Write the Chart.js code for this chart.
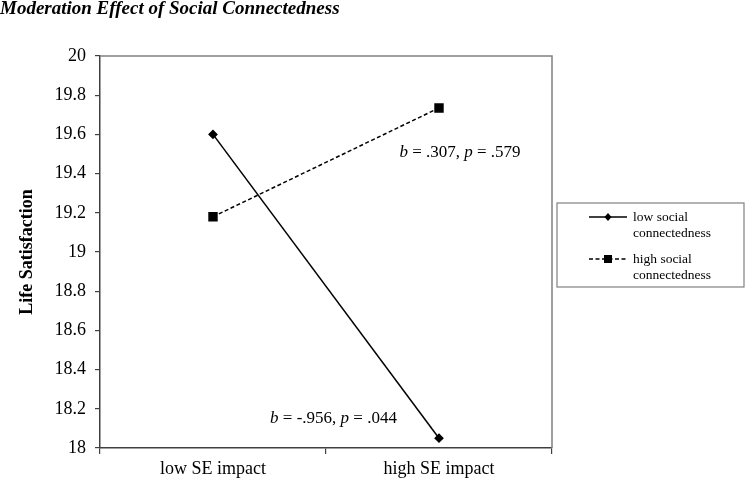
<!DOCTYPE html>
<html>
<head>
<meta charset="utf-8">
<script src="https://cdn.jsdelivr.net/npm/chart.js@4.4.1/dist/chart.umd.min.js"></script>
<style>
  html, body { margin: 0; padding: 0; background: #fff; }
  #wrap { width: 750px; height: 490px; position: relative; }
</style>
</head>
<body>
<div id="wrap"><canvas id="chart" width="750" height="490"></canvas></div>
<script>
// data
const categories = ["low SE impact", "high SE impact"];
const lowSocial = [19.6, 18.05];
const highSocial = [19.18, 19.735];
const seriesNames = [["low social", "connectedness"], ["high social", "connectedness"]];
const yTicks = [18, 18.2, 18.4, 18.6, 18.8, 19, 19.2, 19.4, 19.6, 19.8, 20];
const slopeNotes = [
    { b: ".307", p: ".579", cat: 1.093, y: 19.51 },
    { b: "-.956", p: ".044", cat: 0.533, y: 18.15 }
];

const serif = "'Liberation Serif', 'Times New Roman', serif";

// title, frame, notes and the boxed legend
const extras = {
    id: "extras",
    afterDraw(chart) {
        let ctx = chart.ctx;
        let area = chart.chartArea;
        let x = chart.scales.x;
        let y = chart.scales.y;
        ctx.save();

        // title
        ctx.fillStyle = "#000";
        ctx.font = "bold italic 19px " + serif;
        ctx.textBaseline = "middle";
        ctx.textAlign = "left";
        ctx.fillText("Moderation Effect of Social Connectedness", 0, 9);

        // top and right frame
        ctx.strokeStyle = "#808080";
        ctx.lineWidth = 1.5;
        ctx.beginPath();
        ctx.moveTo(area.left, area.top);
        ctx.lineTo(area.right, area.top);
        ctx.lineTo(area.right, area.bottom);
        ctx.stroke();

        // slope notes
        slopeNotes.forEach(n => {
            let px = x.getPixelForValue(0) + (x.getPixelForValue(1) - x.getPixelForValue(0)) * n.cat;
            let py = y.getPixelForValue(n.y);
            let parts = [["b", true], [" = " + n.b + ", ", false], ["p", true], [" = " + n.p, false]];
            let total = 0;
            parts.forEach(pt => {
                ctx.font = (pt[1] ? "italic " : "") + "17px " + serif;
                total += ctx.measureText(pt[0]).width;
            });
            let cx = px - total / 2;
            ctx.textAlign = "left";
            parts.forEach(pt => {
                ctx.font = (pt[1] ? "italic " : "") + "17px " + serif;
                ctx.fillText(pt[0], cx, py);
                cx += ctx.measureText(pt[0]).width;
            });
        });

        // legend box
        let lx = 557, ly = 203, lw = 187, lh = 84;
        ctx.strokeStyle = "#808080";
        ctx.lineWidth = 1.2;
        ctx.strokeRect(lx, ly, lw, lh);
        ctx.font = "13.5px " + serif;
        chart.data.datasets.forEach((ds, i) => {
            let rowY = ly + 14 + i * 42;
            ctx.strokeStyle = "#000";
            ctx.lineWidth = 1.3;
            ctx.setLineDash(ds.borderDash || []);
            ctx.beginPath();
            ctx.moveTo(lx + 32, rowY);
            ctx.lineTo(lx + 70, rowY);
            ctx.stroke();
            ctx.setLineDash([]);
            ctx.fillStyle = "#000";
            if (ds.pointStyle === "rect") {
                ctx.fillRect(lx + 47, rowY - 4, 8, 8);
            } else {
                ctx.beginPath();
                ctx.moveTo(lx + 51, rowY - 4);
                ctx.lineTo(lx + 54.5, rowY);
                ctx.lineTo(lx + 51, rowY + 4);
                ctx.lineTo(lx + 47.5, rowY);
                ctx.closePath();
                ctx.fill();
            }
            ds.label.forEach((line, j) => {
                ctx.fillText(line, lx + 76, rowY + j * 16.5);
            });
        });
        ctx.restore();
    }
};

new Chart(document.getElementById("chart"), {
    type: "line",
    data: {
        labels: categories,
        datasets: [
            {
                label: seriesNames[0],
                data: lowSocial,
                borderColor: "#000",
                backgroundColor: "#000",
                borderWidth: 1.5,
                pointStyle: "rectRot",
                pointRadius: 3.8,
                pointHoverRadius: 3.8,
                tension: 0
            },
            {
                label: seriesNames[1],
                data: highSocial,
                borderColor: "#000",
                backgroundColor: "#000",
                borderWidth: 1.5,
                borderDash: [4, 2.5],
                pointStyle: "rect",
                pointRadius: 5.6,
                pointHoverRadius: 5.6,
                tension: 0
            }
        ]
    },
    options: {
        responsive: false,
        animation: false,
        layout: { padding: { top: 56, right: 198, bottom: 0, left: 0 } },
        plugins: {
            legend: { display: false },
            tooltip: { enabled: false }
        },
        scales: {
            x: {
                offset: true,
                afterFit(scale) { scale.height = 42; },
                border: { color: "#404040", width: 1.5 },
                grid: { offset: true, drawOnChartArea: false, drawTicks: true, tickLength: 6, color: "#404040", lineWidth: 1.2 },
                ticks: { color: "#000", font: { family: serif, size: 18 }, padding: 4 }
            },
            y: {
                min: 18,
                max: 20,
                afterFit(scale) { scale.width = 100; },
                afterBuildTicks(scale) { scale.ticks = yTicks.map(v => ({ value: v })); },
                border: { color: "#404040", width: 1.5 },
                grid: { drawOnChartArea: false, drawTicks: true, tickLength: 5, color: "#404040", lineWidth: 1.2 },
                ticks: {
                    color: "#000",
                    font: { family: serif, size: 18 },
                    padding: 9,
                    callback: v => String(Math.round(v * 10) / 10)
                },
                title: {
                    display: true,
                    text: "Life Satisfaction",
                    color: "#000",
                    font: { family: serif, size: 18, weight: "bold" },
                    padding: { top: 17, bottom: 0 }
                }
            }
        }
    },
    plugins: [extras]
});
</script>
</body>
</html>
